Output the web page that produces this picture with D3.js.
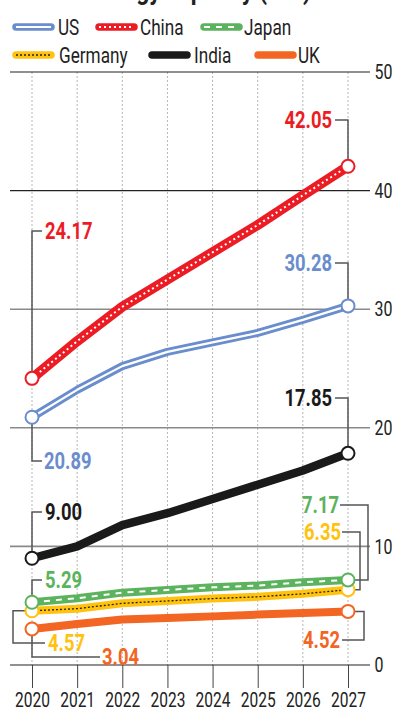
<!DOCTYPE html>
<html>
<head>
<meta charset="utf-8">
<script src="https://cdn.jsdelivr.net/npm/d3@7"></script>
<style>
  body { margin: 0; background: #fff; }
  svg { display: block; font-family: Roboto, "Noto Sans", sans-serif; }
</style>
</head>
<body>
<div id="chart"></div>
<script>
// data
const years = [2020, 2021, 2022, 2023, 2024, 2025, 2026, 2027];
const us      = [20.89, 23.2, 25.2, 26.4, 27.2, 28.0, 29.1, 30.28];
const china   = [24.17, 27.3, 30.2, 32.5, 34.8, 37.1, 39.6, 42.05];
const japan   = [5.29, 5.63, 6.1, 6.33, 6.55, 6.7, 6.98, 7.17];
const germany = [4.57, 4.75, 5.2, 5.4, 5.6, 5.75, 6.0, 6.35];
const india   = [9.00, 10.0, 11.8, 12.8, 14.0, 15.2, 16.4, 17.85];
const uk      = [3.04, 3.46, 3.83, 3.97, 4.1, 4.25, 4.39, 4.52];
const yTicks = [0, 10, 20, 30, 40, 50];

const W = 393, H = 709;
const svg = d3.select("#chart").append("svg")
    .attr("width", W)
    .attr("height", H);

const x = d3.scaleLinear().domain([2020, 2027]).range([32, 348]);
const y = d3.scaleLinear().domain([0, 50]).range([665, 72]);

// condensed look: squeeze the glyphs horizontally
function ctext(g, tx, ty, str, size, sx) {
  return g.append("text")
      .attr("transform", `translate(${tx},${ty}) scale(${sx},1)`)
      .attr("dy", "0.36em")
      .attr("font-size", size)
      .text(str);
}

// cut-off title at the very top
ctext(svg, -2, -11, "Nuclear: energy capacity (GW)", 28, 0.82)
    .attr("font-weight", "bold").attr("fill", "#222");

// vertical dotted grid
svg.append("g").selectAll("line")
    .data(years).join("line")
    .attr("x1", d => x(d)).attr("x2", d => x(d))
    .attr("y1", y(50)).attr("y2", y(0))
    .attr("stroke", "#b5b5b5").attr("stroke-dasharray", "2,2");

// horizontal grid
svg.append("g").selectAll("line")
    .data(yTicks).join("line")
    .attr("x1", 10).attr("x2", 370)
    .attr("y1", d => y(d)).attr("y2", d => y(d))
    .attr("stroke", d => (d === 0 || d >= 40) ? "#222" : "#8a8a8a")
    .attr("stroke-width", d => (d === 0 || d >= 40) ? 1.2 : 1.6);

// right axis labels
const yAxis = svg.append("g")
    .attr("transform", "translate(370,0)")
    .call(d3.axisRight(y).tickValues(yTicks).tickSize(0).tickPadding(6));
yAxis.select(".domain").remove();
yAxis.selectAll("text")
    .attr("font-size", 21).attr("fill", "#222")
    .attr("font-family", "Roboto, sans-serif")
    .attr("transform", "scale(0.76,1)");

// bottom axis
const xAxis = svg.append("g")
    .attr("transform", `translate(0,${y(0)})`)
    .call(d3.axisBottom(x).tickValues(years).tickFormat(d3.format("d")).tickSize(23).tickPadding(4));
xAxis.select(".domain").remove();
xAxis.selectAll("line").attr("stroke", "#444");
xAxis.selectAll("text")
    .attr("font-size", 21).attr("fill", "#222")
    .attr("font-family", "Roboto, sans-serif")
    .attr("transform", "scale(0.74,1)");

const series = [
  { name: "UK",      values: uk,      color: "#f26522", w: 8, inner: null },
  { name: "Germany", values: germany, color: "#ffc20e", w: 8, inner: { color: "#222", w: 1.3, dash: "2,2" } },
  { name: "Japan",   values: japan,   color: "#5cb35d", w: 8, inner: { color: "#fff", w: 2, dash: "6,6" } },
  { name: "India",   values: india,   color: "#1a1a1a", w: 8.5, inner: null },
  { name: "US",      values: us,      color: "#6a8dcd", w: 8, inner: { color: "#fff", w: 2.2, dash: null } },
  { name: "China",   values: china,   color: "#ec1c24", w: 10, inner: { color: "#fff", w: 2, dash: "2,3" } }
];

const line = d3.line()
    .x((d, i) => x(years[i]))
    .y(d => y(d));

series.forEach(s => {
  svg.append("path")
      .datum(s.values)
      .attr("fill", "none")
      .attr("stroke", s.color)
      .attr("stroke-width", s.w)
      .attr("stroke-linejoin", "round")
      .attr("d", line);
  if (s.inner) {
    svg.append("path")
        .datum(s.values)
        .attr("fill", "none")
        .attr("stroke", s.inner.color)
        .attr("stroke-width", s.inner.w)
        .attr("stroke-dasharray", s.inner.dash)
        .attr("stroke-linejoin", "round")
        .attr("d", line);
  }
});

// annotations: leader line relative to the point, label position
const byName = {};
series.forEach(s => byName[s.name] = s);

function lead(name, idx, path, lx, ly, anchor) {
  const s = byName[name];
  const px = x(years[idx]), py = y(s.values[idx]);
  svg.append("path")
      .attr("d", path(px, py))
      .attr("fill", "none").attr("stroke", "#555").attr("stroke-width", 1.5);
  ctext(svg, lx(px), ly, d3.format(".2f")(s.values[idx]), 23, 0.8)
      .attr("text-anchor", anchor)
      .attr("font-weight", "bold")
      .attr("fill", s.color);
}

const last = years.length - 1;
lead("China", 0, (px, py) => `M${px},${py}V231H${px + 10}`, px => px + 13, 231, "start");
lead("China", last, (px, py) => `M${px},${py}V120H${px - 13}`, px => px - 16, 120, "end");
lead("US", last, (px, py) => `M${px},${py}V263H${px - 13}`, px => px - 16, 263, "end");
lead("US", 0, (px, py) => `M${px},${py}V461H${px + 10}`, px => px + 12, 461, "start");
lead("India", 0, (px, py) => `M${px},${py}V512H${px + 10}`, px => px + 13, 512, "start");
lead("India", last, (px, py) => `M${px},${py}V398H${px - 13}`, px => px - 16, 398, "end");
lead("Japan", 0, (px, py) => `M${px},${py}V580H${px + 10}`, px => px + 13, 580, "start");
lead("Japan", last, (px, py) => `M${px + 7},${py}H${px + 20}V505H${px - 8}`, px => px - 9, 505, "end");
lead("Germany", last, (px, py) => `M${px + 7},${py}H${px + 12}V532H${px - 6}`, px => px - 7, 532, "end");
lead("UK", last, (px, py) => `M${px + 7},${py}H${px + 16}V640H${px - 6}`, px => px - 8, 640, "end");
lead("Germany", 0, (px, py) => `M${px - 7},${py}H${px - 19}V643H${px + 13}`, px => px + 16, 643, "start");
lead("UK", 0, (px, py) => `M${px},${py}V657H${px + 68}`, px => px + 70, 657, "start");

// end markers
series.forEach(s => {
  svg.append("g").selectAll("circle")
      .data([0, last]).join("circle")
      .attr("cx", i => x(years[i]))
      .attr("cy", i => y(s.values[i]))
      .attr("r", 6.5)
      .attr("fill", "#fff")
      .attr("stroke", s.color)
      .attr("stroke-width", 2);
});

// legend
const legendItems = [
  { s: "US", x: 13, y: 27, tx: 58 },
  { s: "China", x: 96, y: 27, tx: 140 },
  { s: "Japan", x: 201, y: 27, tx: 244 },
  { s: "Germany", x: 13, y: 55, tx: 59 },
  { s: "India", x: 149, y: 55, tx: 194 },
  { s: "UK", x: 255, y: 55, tx: 298 }
];
legendItems.forEach(it => {
  const s = byName[it.s];
  svg.append("line")
      .attr("x1", it.x + 3).attr("x2", it.x + 38)
      .attr("y1", it.y).attr("y2", it.y)
      .attr("stroke", s.color).attr("stroke-width", 7.5)
      .attr("stroke-linecap", "round");
  if (s.inner) {
    svg.append("line")
        .attr("x1", it.x + 3).attr("x2", it.x + 38)
        .attr("y1", it.y).attr("y2", it.y)
        .attr("stroke", s.inner.color).attr("stroke-width", s.inner.w)
        .attr("stroke-dasharray", s.inner.dash);
  }
  ctext(svg, it.tx, it.y, it.s, 22, 0.78).attr("fill", "#222");
});
</script>
</body>
</html>
